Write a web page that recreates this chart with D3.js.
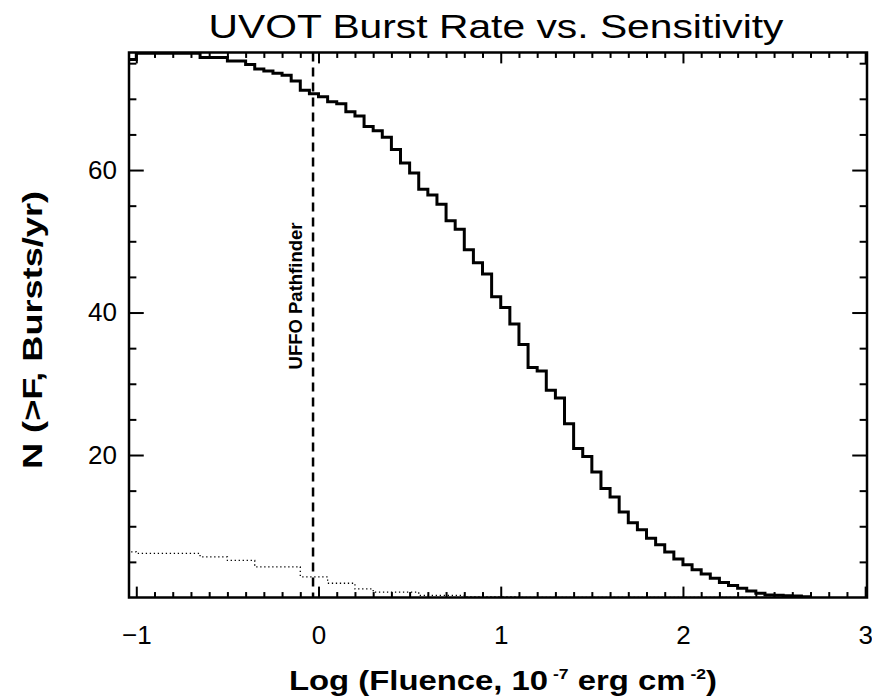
<!DOCTYPE html>
<html>
<head>
<meta charset="utf-8">
<script src="https://cdn.jsdelivr.net/npm/d3@7"></script>
<style>
  body { margin: 0; background: #fff; }
  svg { display: block; }
</style>
</head>
<body>
<div id="chart"></div>
<script>
// left edge of each 0.05-wide fluence bin (log10)
const logF = [
  -1.05, -1.00, -0.95, -0.90, -0.85, -0.80, -0.75, -0.70, -0.65, -0.60,
  -0.55, -0.50, -0.45, -0.40, -0.35, -0.30, -0.25, -0.20, -0.15, -0.10,
  -0.05, 0.00, 0.05, 0.10, 0.15, 0.20, 0.25, 0.30, 0.35, 0.40,
  0.45, 0.50, 0.55, 0.60, 0.65, 0.70, 0.75, 0.80, 0.85, 0.90,
  0.95, 1.00, 1.05, 1.10, 1.15, 1.20, 1.25, 1.30, 1.35, 1.40,
  1.45, 1.50, 1.55, 1.60, 1.65, 1.70, 1.75, 1.80, 1.85, 1.90,
  1.95, 2.00, 2.05, 2.10, 2.15, 2.20, 2.25, 2.30, 2.35, 2.40,
  2.45, 2.50, 2.55, 2.60, 2.65
];
const binWidth = 0.05;

// UVOT N(>F) bursts/yr
const nUvot = [
  75.5, 76.4, 76.4, 76.4, 76.4, 76.4, 76.4, 76.4, 75.8, 75.8,
  75.8, 75.3, 75.3, 74.8, 74.2, 73.9, 73.6, 73.3, 72.5, 71.2,
  70.7, 70.3, 69.6, 69.3, 68.2, 67.6, 66.1, 65.5, 64.6, 62.9,
  61.0, 59.6, 57.3, 56.5, 55.2, 52.9, 51.7, 48.8, 47.0, 45.4,
  42.2, 40.7, 38.4, 35.5, 32.3, 31.8, 29.1, 28.0, 24.4, 20.9,
  19.8, 17.6, 15.3, 14.1, 12.0, 10.5, 9.5, 8.3, 7.4, 6.4,
  5.4, 4.6, 3.9, 3.3, 2.7, 2.1, 1.7, 1.3, 0.9, 0.6,
  0.35, 0.3, 0.25, 0.2, 0.1
];

// dotted curve
const nDotted = [
  6.4, 6.2, 6.2, 6.2, 6.2, 6.2, 6.2, 6.2, 5.7, 5.7,
  5.7, 5.2, 5.2, 5.2, 4.3, 4.3, 4.3, 4.3, 4.3, 2.9,
  2.9, 2.9, 2.0, 2.0, 2.0, 1.2, 1.2, 0.75, 0.75, 0.75,
  0.75, 0.75, 0.3, 0.3, 0.3, 0.3, 0.3, 0.1, 0.1, 0.1,
  0.1, 0.1, 0.1, 0, 0, 0, 0, 0, 0, 0,
  0, 0, 0, 0, 0, 0, 0, 0, 0, 0,
  0, 0, 0, 0, 0, 0, 0, 0, 0, 0,
  0, 0, 0, 0, 0
];

const xMajor = [-1, 0, 1, 2, 3];
const yMajor = [20, 40, 60];
const pathfinderLogF = -0.03;

const svgWidth = 872, svgHeight = 700;
const plot = { left: 129, right: 867, top: 52.5, bottom: 597.5 };

const svg = d3.select('#chart').append('svg')
  .attr('width', svgWidth)
  .attr('height', svgHeight);

const x = d3.scaleLinear().domain([-1.04, 3.01]).range([plot.left, plot.right]);
const y = d3.scaleLinear().domain([0, 76.5]).range([plot.bottom, plot.top]);

const xMinor = d3.range(-10, 31).map(d => d / 10).filter(d => !xMajor.includes(d));
const yMinor = d3.range(5, 80, 5).filter(d => d % 20 !== 0);

svg.append('clipPath').attr('id', 'clip')
  .append('rect')
  .attr('x', plot.left).attr('y', plot.top)
  .attr('width', plot.right - plot.left).attr('height', plot.bottom - plot.top);

function stepData(vals) {
  const pts = logF.map((d, i) => [d, vals[i]]);
  pts.push([logF[logF.length - 1] + binWidth, vals[vals.length - 1]]);
  return pts;
}

const line = d3.line()
  .x(d => x(d[0]))
  .y(d => y(d[1]))
  .curve(d3.curveStepAfter);

const curves = svg.append('g').attr('clip-path', 'url(#clip)');

curves.append('path')
  .attr('d', line(stepData(nDotted)))
  .attr('fill', 'none')
  .attr('stroke', '#000')
  .attr('stroke-width', 1.3)
  .attr('stroke-dasharray', '1.3,2.7');

curves.append('path')
  .attr('d', line(stepData(nUvot)))
  .attr('fill', 'none')
  .attr('stroke', '#000')
  .attr('stroke-width', 3);

curves.append('line')
  .attr('x1', x(pathfinderLogF)).attr('x2', x(pathfinderLogF))
  .attr('y1', plot.top).attr('y2', plot.bottom)
  .attr('stroke', '#000')
  .attr('stroke-width', 2.5)
  .attr('stroke-dasharray', '9,6');

svg.append('text')
  .attr('transform', 'translate(' + (x(pathfinderLogF) - 11) + ',296) rotate(-90)')
  .attr('text-anchor', 'middle')
  .style('font-family', '"Liberation Sans", Arial, sans-serif')
  .style('font-weight', 'bold')
  .style('font-size', '18.5px')
  .text('UFFO Pathfinder');

// axes, ticks pointing inward
const xLen = 0.02 * (plot.bottom - plot.top);
const yLen = 0.02 * (plot.right - plot.left);
const fmt = d3.format('d');

function styleAxis(g) {
  g.select('.domain').remove();
  g.selectAll('.tick line').attr('stroke', '#000').attr('stroke-width', 2);
  g.selectAll('.tick text')
    .style('font-family', '"Liberation Sans", Arial, sans-serif')
    .style('font-size', '26px')
    .attr('fill', '#000');
}

svg.append('g').attr('transform', 'translate(0,' + plot.bottom + ')')
  .call(d3.axisBottom(x).tickValues(xMajor).tickSize(-xLen).tickPadding(28).tickFormat(fmt))
  .call(styleAxis);
svg.append('g').attr('transform', 'translate(0,' + plot.bottom + ')')
  .call(d3.axisBottom(x).tickValues(xMinor).tickSize(-xLen / 2).tickFormat(''))
  .call(styleAxis);
svg.append('g').attr('transform', 'translate(0,' + plot.top + ')')
  .call(d3.axisTop(x).tickValues(xMajor).tickSize(-xLen).tickFormat(''))
  .call(styleAxis);
svg.append('g').attr('transform', 'translate(0,' + plot.top + ')')
  .call(d3.axisTop(x).tickValues(xMinor).tickSize(-xLen / 2).tickFormat(''))
  .call(styleAxis);

svg.append('g').attr('transform', 'translate(' + plot.left + ',0)')
  .call(d3.axisLeft(y).tickValues(yMajor).tickSize(-yLen).tickPadding(12).tickFormat(fmt))
  .call(styleAxis);
svg.append('g').attr('transform', 'translate(' + plot.left + ',0)')
  .call(d3.axisLeft(y).tickValues(yMinor).tickSize(-yLen / 2).tickFormat(''))
  .call(styleAxis);
svg.append('g').attr('transform', 'translate(' + plot.right + ',0)')
  .call(d3.axisRight(y).tickValues(yMajor).tickSize(-yLen).tickFormat(''))
  .call(styleAxis);
svg.append('g').attr('transform', 'translate(' + plot.right + ',0)')
  .call(d3.axisRight(y).tickValues(yMinor).tickSize(-yLen / 2).tickFormat(''))
  .call(styleAxis);

svg.append('rect')
  .attr('x', plot.left).attr('y', plot.top)
  .attr('width', plot.right - plot.left).attr('height', plot.bottom - plot.top)
  .attr('fill', 'none')
  .attr('stroke', '#000')
  .attr('stroke-width', 2.5);

// titles
svg.append('text')
  .attr('x', 496).attr('y', 38)
  .attr('text-anchor', 'middle')
  .attr('textLength', 575)
  .attr('lengthAdjust', 'spacingAndGlyphs')
  .style('font-family', '"Liberation Sans", Arial, sans-serif')
  .style('font-size', '34px')
  .text('UVOT Burst Rate vs. Sensitivity');

const xTitle = svg.append('text')
  .attr('x', 503).attr('y', 690)
  .attr('text-anchor', 'middle')
  .attr('textLength', 428)
  .attr('lengthAdjust', 'spacingAndGlyphs')
  .style('font-family', '"Liberation Sans", Arial, sans-serif')
  .style('font-weight', 'bold')
  .style('font-size', '28px');
xTitle.append('tspan').text('Log (Fluence, 10');
xTitle.append('tspan').attr('dy', -11).style('font-size', '15px').text(' -7');
xTitle.append('tspan').attr('dy', 11).text(' erg cm');
xTitle.append('tspan').attr('dy', -11).style('font-size', '15px').text(' -2');
xTitle.append('tspan').attr('dy', 11).text(')');

svg.append('text')
  .attr('transform', 'translate(42,330) rotate(-90)')
  .attr('text-anchor', 'middle')
  .attr('textLength', 278)
  .attr('lengthAdjust', 'spacingAndGlyphs')
  .style('font-family', '"Liberation Sans", Arial, sans-serif')
  .style('font-weight', 'bold')
  .style('font-size', '28px')
  .text('N (>F, Bursts/yr)');
</script>
</body>
</html>
